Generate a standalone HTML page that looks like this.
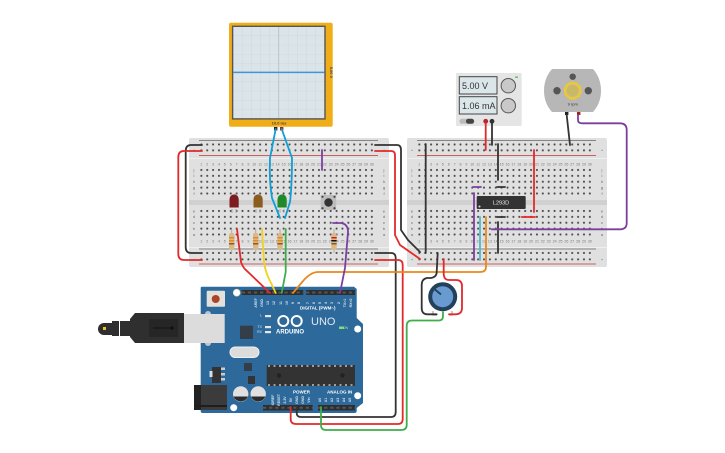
<!DOCTYPE html>
<html><head><meta charset="utf-8"><style>
html,body{margin:0;padding:0;background:#fff;width:725px;height:453px;overflow:hidden}
svg{display:block}
text{font-family:"Liberation Sans",sans-serif}
.w{fill:none;stroke-width:1.8;stroke-linejoin:round;stroke-linecap:round}
</style></head><body>
<svg width="725" height="453" viewBox="0 0 725 453" xmlns="http://www.w3.org/2000/svg">
<defs>
<pattern id="h1" width="5.88" height="5.88" patternUnits="userSpaceOnUse" x="9.4" y="3.56"><circle cx="2.94" cy="2.94" r="1.05" fill="#4a4a4a"/></pattern>
<pattern id="h2" width="5.88" height="5.88" patternUnits="userSpaceOnUse" x="9.4" y="29.06"><circle cx="2.94" cy="2.94" r="1.05" fill="#4a4a4a"/></pattern>
<pattern id="h3" width="5.88" height="5.88" patternUnits="userSpaceOnUse" x="9.4" y="70.06"><circle cx="2.94" cy="2.94" r="1.05" fill="#4a4a4a"/></pattern>
<pattern id="h4" width="5.88" height="6.4" patternUnits="userSpaceOnUse" x="9.4" y="112.06"><circle cx="2.94" cy="2.94" r="1.05" fill="#4a4a4a"/></pattern>
<pattern id="g" width="9.2" height="9.2" patternUnits="userSpaceOnUse" x="232.7" y="26.4"><path d="M0 0H9.2M0 0V9.2" stroke="#c6d2d7" stroke-width=".6" fill="none"/></pattern>
<g id="nums" font-size="3.6" fill="#777" text-anchor="middle">
<text x="12.3" y="0">1</text><text x="18.2" y="0">2</text><text x="24" y="0">3</text><text x="30" y="0">4</text><text x="35.8" y="0">5</text><text x="41.7" y="0">6</text><text x="47.6" y="0">7</text><text x="53.5" y="0">8</text><text x="59.4" y="0">9</text><text x="65.2" y="0">10</text><text x="71.1" y="0">11</text><text x="77" y="0">12</text><text x="82.9" y="0">13</text><text x="88.7" y="0">14</text><text x="94.6" y="0">15</text><text x="100.5" y="0">16</text><text x="106.4" y="0">17</text><text x="112.3" y="0">18</text><text x="118.2" y="0">19</text><text x="124" y="0">20</text><text x="130" y="0">21</text><text x="135.8" y="0">22</text><text x="141.7" y="0">23</text><text x="147.6" y="0">24</text><text x="153.5" y="0">25</text><text x="159.4" y="0">26</text><text x="165.2" y="0">27</text><text x="171.1" y="0">28</text><text x="177" y="0">29</text><text x="182.9" y="0">30</text>
</g>
<g id="bb">
<rect width="200" height="129" rx="2" fill="#e0e0e0"/>
<rect y="62" width="200" height="5" fill="#d0d0d0"/>
<rect y="20" width="200" height="1" fill="#efefef"/>
<rect y="109" width="200" height="1" fill="#efefef"/>
<path d="M10 2.5H189M10 111H189" stroke="#666" stroke-width=".8"/>
<path d="M10 17.500H189M10 126H189" stroke="#c9605f" stroke-width=".9"/>
<rect x="9.4" y="3.56" width="176.4" height="11.76" fill="url(#h1)"/>
<rect x="9.4" y="112.06" width="176.4" height="12.8" fill="url(#h4)"/>
<rect x="9.4" y="29.06" width="176.4" height="29.4" fill="url(#h2)"/>
<rect x="9.4" y="70.06" width="176.4" height="29.4" fill="url(#h3)"/>
<use href="#nums" y="27.500"/><use href="#nums" y="104.500"/>
<g font-size="4" fill="#666" text-anchor="middle"><text x="5" y="13.500">+</text><text x="195" y="13.500">+</text><text x="5" y="123">+</text><text x="195" y="123">+</text>
<text x="5" y="33.300">j</text><text x="5" y="39.200">i</text><text x="5" y="45">h</text><text x="5" y="51">g</text><text x="5" y="57">f</text><text x="5" y="74.300">e</text><text x="5" y="80.200">d</text><text x="5" y="86">c</text><text x="5" y="92">b</text><text x="5" y="98">a</text>
<text x="195" y="33.300">j</text><text x="195" y="39.200">i</text><text x="195" y="45">h</text><text x="195" y="51">g</text><text x="195" y="57">f</text><text x="195" y="74.300">e</text><text x="195" y="80.200">d</text><text x="195" y="86">c</text><text x="195" y="92">b</text><text x="195" y="98">a</text></g>
</g>
</defs>

<!-- breadboards -->
<use href="#bb" x="189" y="138"/>
<use href="#bb" x="407" y="138"/>

<!-- oscilloscope -->
<rect x="229" y="22.7" width="103.7" height="104" rx="2" fill="#f0ad17"/>
<rect x="232.6" y="26.3" width="92.4" height="92.6" fill="#dbe4e8"/>
<rect x="232.6" y="26.3" width="92.4" height="92.6" fill="url(#g)"/>
<path d="M278.7 26.3V119" stroke="#b4c0c5" stroke-width=".8"/>
<rect x="232.6" y="26.3" width="92.4" height="92.6" fill="none" stroke="#555" stroke-width="1.4"/>
<path d="M233.5 72.4H324.5" stroke="#3b97d9" stroke-width="1.500"/>
<text x="279" y="124.5" font-size="4" fill="#444" text-anchor="middle" font-weight="bold">10.0 ms</text>
<text transform="translate(330,72.5) rotate(90)" font-size="4" fill="#444" text-anchor="middle" font-weight="bold">5.00 V</text>
<rect x="274" y="127" width="3.4" height="3.4" fill="#222"/><rect x="280" y="127" width="3.4" height="3.4" fill="#a8201f"/>

<!-- left board parts -->
<g>
<path d="M236 209V213M232 209V213M256 209V213M260 209V213M280 209V213M284 209V213" stroke="#aaa" stroke-width="1"/>
<path d="M229.5 199a4.6 4.6 0 0 1 9.2 0V207.500H229.500Z" fill="#7d1d20"/>
<path d="M253.500 199a4.600 4.600 0 0 1 9.200 0V207.500H253.500Z" fill="#8a5c1e"/>
<path d="M277.500 199a4.600 4.600 0 0 1 9.200 0V207.500H277.500Z" fill="#1e8a2a"/>
<rect x="320.700" y="195" width="15.500" height="15" fill="#bdbdbd"/>
<circle cx="328.500" cy="202.500" r="4.200" fill="#333"/>
<g fill="#444"><circle cx="322.500" cy="196.800" r="1.100"/><circle cx="334.500" cy="196.800" r="1.100"/><circle cx="322.500" cy="208.200" r="1.100"/><circle cx="334.500" cy="208.200" r="1.100"/></g>
<g>
<path d="M231.700 229V253M255.700 229V253M280 229V253M334 229V253" stroke="#aaa" stroke-width="1"/>
<rect x="229" y="233" width="5.400" height="17" rx="2" fill="#d9b98a"/><rect x="229" y="237" width="5.400" height="1.500" fill="#e8891c"/><rect x="229" y="240" width="5.400" height="1.500" fill="#e8891c"/><rect x="229" y="243" width="5.400" height="1.500" fill="#8a5c1e"/>
<rect x="253" y="233" width="5.400" height="17" rx="2" fill="#d9b98a"/><rect x="253" y="237" width="5.400" height="1.500" fill="#e8891c"/><rect x="253" y="240" width="5.400" height="1.500" fill="#e8891c"/><rect x="253" y="243" width="5.400" height="1.500" fill="#8a5c1e"/>
<rect x="277.300" y="233" width="5.400" height="17" rx="2" fill="#d9b98a"/><rect x="277.300" y="237" width="5.400" height="1.500" fill="#e8891c"/><rect x="277.300" y="240" width="5.400" height="1.500" fill="#e8891c"/><rect x="277.300" y="243" width="5.400" height="1.500" fill="#8a5c1e"/>
<rect x="331.300" y="233" width="5.400" height="17" rx="2" fill="#d9b98a"/><rect x="331.300" y="237" width="5.400" height="1.500" fill="#d81f1f"/><rect x="331.300" y="240" width="5.400" height="1.500" fill="#111"/><rect x="331.300" y="243" width="5.400" height="1.500" fill="#8a5c1e"/>
</g>
</g>

<!-- IC -->
<rect x="476.700" y="196" width="49" height="13" rx="1" fill="#333"/>
<text x="501" y="204.500" font-size="5.500" fill="#eee" text-anchor="middle">L293D</text>
<circle cx="479.500" cy="206.500" r="1" fill="#ddd"/>

<!-- power supply -->
<rect x="456" y="73" width="65.700" height="53" rx="1" fill="#e5e5e5"/>
<rect x="459.300" y="76.700" width="37.700" height="17.300" fill="#dbe6ea" stroke="#444" stroke-width="1"/>
<rect x="459.300" y="96.700" width="37.700" height="17.300" fill="#dbe6ea" stroke="#444" stroke-width="1"/>
<text x="462" y="89" font-size="9" fill="#333">5.00 V</text>
<text x="462" y="109" font-size="9" fill="#333">1.06 mA</text>
<circle cx="508.300" cy="85.700" r="7.200" fill="#c9c9c9" stroke="#555" stroke-width="1"/>
<circle cx="508.300" cy="105.700" r="7.200" fill="#c9c9c9" stroke="#555" stroke-width="1"/>
<rect x="515" y="76.500" width="3" height="1.500" fill="#5cc95c"/>
<rect x="459.500" y="118.800" width="15" height="5" rx="2.500" fill="#bbb"/>
<rect x="466" y="118.800" width="8" height="5" rx="2.500" fill="#444"/>
<circle cx="485.700" cy="121.300" r="2.400" fill="#b5252a"/>
<circle cx="492" cy="121.300" r="2.400" fill="#333"/>

<!-- motor -->
<path d="M552 69H593Q601 78 601 90.700Q601 103 593 112H552Q544 103 544 90.700Q544 78 552 69Z" fill="#b7b7b7"/>
<circle cx="557" cy="90.700" r="3.700" fill="#555"/><circle cx="588.300" cy="90.700" r="3.700" fill="#555"/><circle cx="572.700" cy="76.700" r="3.200" fill="#555"/>
<circle cx="572.700" cy="90.700" r="7.500" fill="none" stroke="#edc832" stroke-width="2.600" />
<circle cx="572.700" cy="90.700" r="8.300" fill="none" stroke="#edc832" stroke-width="1.800" stroke-dasharray="2.400 2.800"/>
<circle cx="572.700" cy="90.700" r="5.500" fill="#c9b864"/>
<text x="572.700" y="105.500" font-size="4" fill="#333" text-anchor="middle">9 rpm</text>
<rect x="565" y="112" width="3.400" height="3" fill="#222"/><rect x="577" y="112" width="3.400" height="3" fill="#a8201f"/>

<!-- pot -->
<path d="M433 311V315H437M452 311V315H449" fill="none" stroke="#bbb" stroke-width="1.600"/>
<circle cx="442.700" cy="296.700" r="14.500" fill="#24415c"/>
<circle cx="442.700" cy="296.700" r="10.500" fill="#6a9bd0"/>
<path d="M435 289.500L441 294.500" stroke="#24415c" stroke-width="1.800"/>

<!-- arduino -->
<path d="M202 286.700H354L356.700 289V318L363 324V403L356.700 408V411Q356.700 413 354.500 413H202.500Q200.700 413 200.700 411V288Q200.700 286.700 202 286.700Z" fill="#2d6a9b"/>
<g fill="#fff"><circle cx="236.700" cy="292.700" r="3.500" stroke="#d8d8a8" stroke-width=".6"/><circle cx="233.700" cy="407.700" r="3.500"/><circle cx="357.700" cy="329" r="3.500"/><circle cx="357.700" cy="395.700" r="3.500"/></g>
<rect x="241.700" y="290" width="61.500" height="5" fill="#2e2e2e"/><rect x="306" y="290" width="49" height="5" fill="#2e2e2e"/>
<rect x="263" y="405" width="49.700" height="5.500" fill="#2e2e2e"/><rect x="318" y="405" width="37" height="5.500" fill="#2e2e2e"/>
<path d="M241.700 292.500H303M306 292.500H355M263 407.700H312.700M318 407.700H355" stroke="#555" stroke-width="2" stroke-dasharray="3.300 2.800" fill="none"/>
<rect x="206.700" y="290.700" width="18.300" height="16" rx="1" fill="#e4e0da"/><circle cx="215.700" cy="299" r="4" fill="#a94628"/>
<rect x="240" y="325.700" width="13" height="13.300" fill="#333e49"/>
<rect x="230" y="347" width="29" height="10.500" rx="5.200" fill="#dcdcdc" stroke="#efefef"/>
<rect x="266.700" y="365" width="88.300" height="21" fill="#333"/>
<path d="M268 366H354M268 385H354" stroke="#ddd" stroke-width="1.200" stroke-dasharray="2 3.500"/>
<circle cx="279" cy="375.500" r="2.200" fill="#222"/><circle cx="342.500" cy="375.500" r="2.200" fill="#222"/>
<rect x="212" y="367" width="9" height="16" fill="#333"/><rect x="221" y="367.500" width="4" height="2.500" fill="#ccc"/><rect x="221" y="373" width="4" height="2.500" fill="#ccc"/><rect x="221" y="378" width="4" height="2.500" fill="#ccc"/><rect x="209.500" y="371" width="3" height="6" fill="#ddd"/>
<rect x="244" y="363" width="8" height="8" fill="#333e49"/>
<rect x="248" y="376" width="7" height="8" fill="#333"/>
<path d="M233 394a7.700 7.700 0 0 1 15.400 0a7.700 7.700 0 0 1 -15.400 0Z" fill="#e0e0e0"/><path d="M233.500 396.500a7.700 7.700 0 0 0 14.400 0Z" fill="#2c2c2c"/>
<path d="M250.500 394a7.700 7.700 0 0 1 15.400 0a7.700 7.700 0 0 1 -15.400 0Z" fill="#e0e0e0"/><path d="M251 396.500a7.700 7.700 0 0 0 14.400 0Z" fill="#2c2c2c"/>
<rect x="194" y="385" width="33" height="25" fill="#3b3b3b"/><rect x="194" y="385" width="7" height="25" fill="#222"/><rect x="194" y="405" width="33" height="2" fill="#1e1e1e"/>
<rect x="184" y="314" width="40.700" height="29" fill="#dcdcdc"/>
<rect x="205" y="311" width="6" height="35" rx="3" fill="#dcdcdc" opacity=".8"/>
<path d="M135 313H184V343H135L130 337V319Z" fill="#2f2f2f"/>
<rect x="149" y="319" width="29" height="18" fill="#262626"/>
<path d="M153 328H172" stroke="#111" stroke-width="1"/><circle cx="172" cy="328" r="1.800" fill="#111"/>
<rect x="120" y="321" width="10" height="15" fill="#2f2f2f"/><rect x="112" y="321" width="7" height="15" fill="#2f2f2f"/>
<path d="M104 323H112V335H104A6 6 0 0 1 104 323Z" fill="#2f2f2f"/>
<rect x="103" y="327" width="3" height="3" fill="#e8c71c"/>
<g fill="#e8e8e8">
<rect x="265" y="315" width="6" height="2.200"/><rect x="265" y="326" width="6" height="2.200"/><rect x="265" y="331" width="6" height="2.200"/>
</g>
<g fill="#fff" font-weight="bold">
<text x="290" y="333.500" font-size="6" text-anchor="middle">ARDUINO</text>
<text x="300" y="309.500" font-size="4.500">DIGITAL (PWM~)</text>
<text x="293" y="393.500" font-size="4.500">POWER</text>
<text x="327" y="393.500" font-size="4.500">ANALOG IN</text>
</g>
<g fill="#d7e3ee" font-size="3.500">
<text x="262" y="316.500" text-anchor="end">L</text><text x="262" y="328" text-anchor="end">TX</text><text x="262" y="333" text-anchor="end">RX</text>
<text x="348" y="329" text-anchor="end" fill="#a9e7a9">ON</text>
</g>
<text x="311" y="325" font-size="11" fill="#dfe9f2">UNO</text>
<circle cx="283.300" cy="321" r="5" fill="none" stroke="#fff" stroke-width="2"/><circle cx="296.700" cy="321" r="5" fill="none" stroke="#fff" stroke-width="2"/>
<rect x="339" y="326.500" width="5" height="2.500" fill="#7be07b"/>
<g fill="#dce7f0" font-size="3.500" font-weight="bold" text-anchor="middle">
<text transform="translate(257,303) rotate(-90)">AREF</text><text transform="translate(263,303) rotate(-90)">GND</text><text transform="translate(269,303) rotate(-90)">13</text><text transform="translate(275,303) rotate(-90)">12</text><text transform="translate(282,303) rotate(-90)">11</text><text transform="translate(288,303) rotate(-90)">10</text><text transform="translate(294,303) rotate(-90)">9</text><text transform="translate(300,303) rotate(-90)">8</text>
<text transform="translate(309,303) rotate(-90)">7</text><text transform="translate(315,303) rotate(-90)">6</text><text transform="translate(321,303) rotate(-90)">5</text><text transform="translate(327,303) rotate(-90)">4</text><text transform="translate(333,303) rotate(-90)">3</text><text transform="translate(340,303) rotate(-90)">2</text><text transform="translate(346,303) rotate(-90)">TX&gt;1</text><text transform="translate(352,303) rotate(-90)">RX&lt;0</text>
<text transform="translate(274,400) rotate(-90)">IOREF</text><text transform="translate(280,400) rotate(-90)">RESET</text><text transform="translate(286,400) rotate(-90)">3.3V</text><text transform="translate(292,400) rotate(-90)">5V</text><text transform="translate(298,400) rotate(-90)">GND</text><text transform="translate(304,400) rotate(-90)">GND</text><text transform="translate(310,400) rotate(-90)">Vin</text>
<text transform="translate(321,400) rotate(-90)">A0</text><text transform="translate(327,400) rotate(-90)">A1</text><text transform="translate(333,400) rotate(-90)">A2</text><text transform="translate(339,400) rotate(-90)">A3</text><text transform="translate(345,400) rotate(-90)">A4</text><text transform="translate(351,400) rotate(-90)">A5</text>
</g>

<!-- wires -->
<g class="w">
<path stroke="#333" d="M202 145H191Q185.700 145 185.700 151V247Q185.700 253 191 253H202"/>
<path stroke="#e22a2a" d="M202 151H184Q178.300 151 178.300 157V254Q178.300 260 184 260H202"/>
<path stroke="#333" d="M375 145H397Q401 145 401 150V230L408 240L420 252"/>
<path stroke="#e22a2a" d="M375 151H391Q395 151 395 155V235L400 245L420 259"/>
<path stroke="#333" d="M375 253H391Q395.700 253 395.700 258V412Q395.700 417 391 417H301Q296.700 417 296.700 413V408"/>
<path stroke="#e22a2a" d="M375 260H398Q402.700 260 402.700 265V419Q402.700 424 398 424H296Q290.700 424 290.700 419V407"/>
<path stroke="#3dae4a" d="M321 407V425Q321 430 326 430H401Q406.700 430 406.700 425V326Q406.700 320.500 412 320.500H439Q443 320.500 443 316V312"/>
<path stroke="#e22a2a" d="M237 229L241 262Q243 268 247 271L270 293"/>
<path stroke="#f2d21b" d="M262 229L264 262Q265 272 272 285L275.700 293"/>
<path stroke="#3dae4a" d="M285.700 229V272L281.700 293"/>
<path stroke="#e8891c" d="M293 293L303 281Q311 272 318 272H480Q486 272 486 267V217"/>
<path stroke="#7b3fa0" d="M333 223H341Q348 224 348 232L345 268L340 293"/>
<path stroke="#7b3fa0" d="M322 150V170" />
<path stroke="#0f9ed5" d="M275.700 129L270 158Q269 180 272 198L280 218"/>
<path stroke="#0f9ed5" d="M281.700 129L292 158Q292 185 290 202L285 218"/>
<path stroke="#333" d="M425.700 144V253"/>
<path stroke="#333" d="M498 144V180M497 187H505M497 217H505M498 222V253"/>
<path stroke="#e22a2a" d="M534 150V212M521.700 217H535"/>
<path stroke="#7b3fa0" d="M473 187H481M474 193V260"/>
<path stroke="#4fb9c9" d="M480 217V260"/>
<path stroke="#7b3fa0" d="M491.700 229.300H620Q626.700 229.300 626.700 223V130Q626.700 123.300 620 123.300H582Q578 123.300 578 120V115"/>
<path stroke="#e22a2a" d="M485.700 123V150"/>
<path stroke="#333" d="M492 123V145"/>
<path stroke="#333" d="M566.700 115L570 145"/>
<path stroke="#333" d="M437.700 253L436.700 272Q436.700 277 431 278H427Q421.700 279 421.700 285V308Q421.700 314 427 314.300H436.700"/>
<path stroke="#e22a2a" d="M443.700 259V274Q444 280 449 280H456Q462 280 462 286V308Q462 314 456 314.300H449"/>
</g>
</svg>
</body></html>
